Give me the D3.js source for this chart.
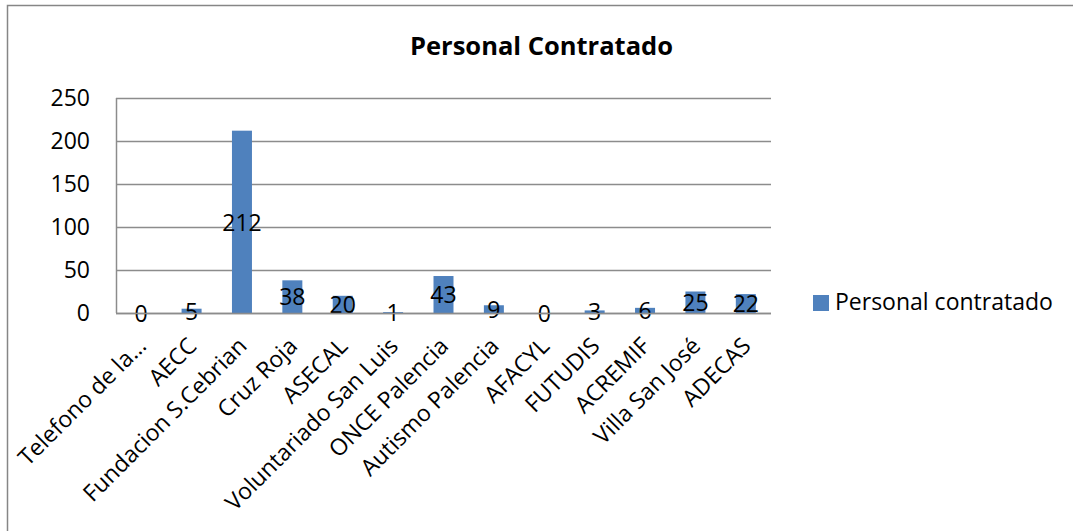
<!DOCTYPE html>
<html><head><meta charset="utf-8">
<script src="https://cdn.jsdelivr.net/npm/d3@7"></script>
<style>body{margin:0;background:#fff}svg{display:block}text{font-family:"Open Sans",sans-serif;fill:#000}</style>
</head><body><svg id="c" width="1073" height="531"></svg>
<script>
const categories=["Telefono de la…","AECC","Fundacion S.Cebrian","Cruz Roja","ASECAL","Voluntariado San Luis","ONCE Palencia","Autismo Palencia","AFACYL","FUTUDIS","ACREMIF","Villa San José","ADECAS"];
const values=[0,5,212,38,20,1,43,9,0,3,6,25,22];
const yTicks=[0,50,100,150,200,250];
const seriesName="Personal contratado";
const title="Personal Contratado";

const svg=d3.select("#c");
svg.append("rect").attr("x",7.5).attr("y",5.5).attr("width",1100).attr("height",600).attr("fill","#fff").attr("stroke","#868686").attr("stroke-width",1.5);
const L=116,R=771,T=98,B=313;
const y=d3.scaleLinear().domain([0,250]).range([B,T]);
const x=d3.scaleBand().domain(categories).range([L,R]);
const cx=d=>x(d)+x.bandwidth()/2;
const grid=svg.append("g");
yTicks.forEach(t=>grid.append("line").attr("x1",L).attr("x2",R).attr("y1",Math.round(y(t))+0.5).attr("y2",Math.round(y(t))+0.5).attr("stroke","#8c8c8c").attr("stroke-width",1.5));
svg.append("line").attr("x1",L+0.5).attr("x2",L+0.5).attr("y1",T).attr("y2",B).attr("stroke","#8c8c8c").attr("stroke-width",1.5);
yTicks.forEach(t=>svg.append("text").attr("x",90).attr("y",y(t)).attr("dy","0.36em").attr("text-anchor","end").style("font-size","23px").text(t));
svg.append("g").selectAll("rect").data(values).join("rect")
 .attr("x",(d,i)=>cx(categories[i])-10).attr("width",20).attr("y",d=>y(d)).attr("height",d=>B-y(d)).attr("fill","#4F81BD");
svg.append("g").selectAll("text").data(values).join("text")
 .attr("x",(d,i)=>cx(categories[i])).attr("y",d=>(y(d)+B)/2).attr("dy","0.38em").attr("text-anchor","middle").style("font-size","23px").text(d=>d);
svg.append("line").attr("x1",L).attr("x2",R).attr("y1",B+0.5).attr("y2",B+0.5).attr("stroke","#8c8c8c").attr("stroke-width",1.5);
svg.append("g").selectAll("text").data(categories).join("text")
 .attr("transform",d=>`translate(${cx(d)-5},${B+23}) rotate(-45)`)
 .attr("text-anchor","end").attr("dy","0.7em").style("font-size","23px").text(d=>d);
svg.append("text").attr("x",541.5).attr("y",55).attr("text-anchor","middle").style("font-size","25.5px").style("font-weight","bold").text(title);
svg.append("rect").attr("x",813).attr("y",295).attr("width",16).attr("height",16).attr("fill","#4F81BD");
svg.append("text").attr("x",835).attr("y",302).attr("dy","0.36em").style("font-size","23px").text(seriesName);
</script></body></html>
